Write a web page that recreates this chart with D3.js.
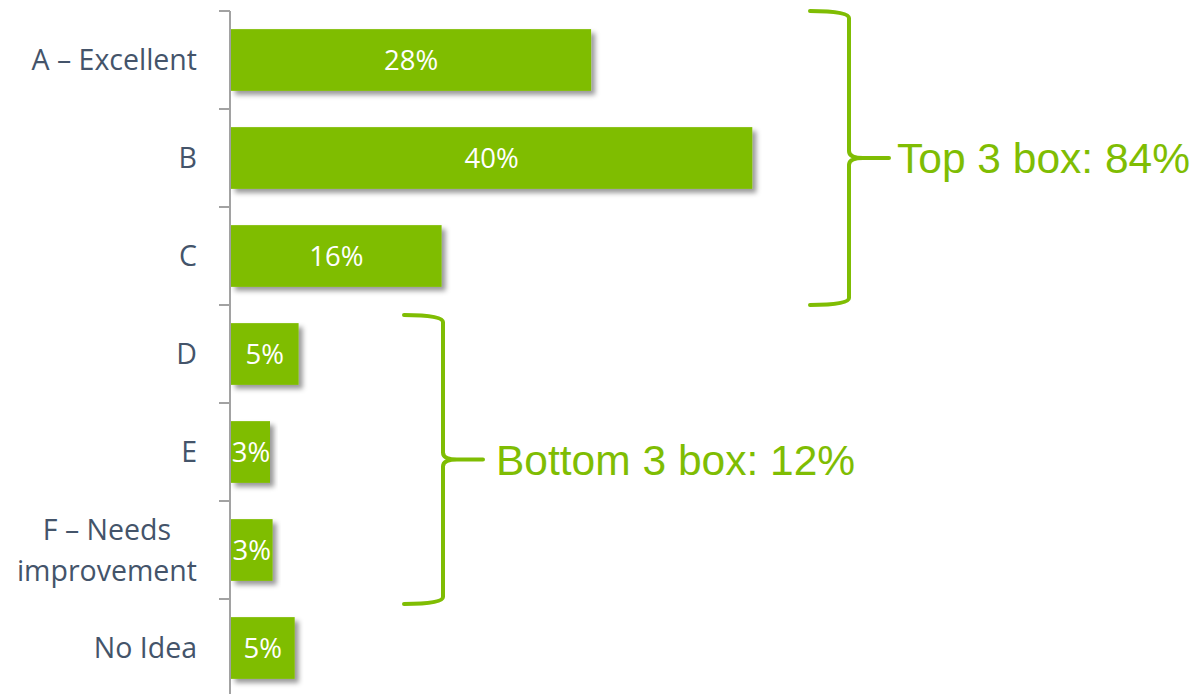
<!DOCTYPE html>
<html>
<head>
<meta charset="utf-8">
<script src="https://cdn.jsdelivr.net/npm/d3@7"></script>
<style>
  body { margin: 0; background: #fff; }
  svg { display: block; }
</style>
</head>
<body>
<svg id="chart"></svg>
<script>
// data
var categories = ["A – Excellent", "B", "C", "D", "E", "F – Needs\nimprovement", "No Idea"];
var values = [27.7, 40.1, 16.2, 5.2, 3.0, 3.2, 4.9]; // percent
var groupTexts = ["Top 3 box: 84%", "Bottom 3 box: 12%"];
var groupFirst = ["A – Excellent", "D"];
var groupLast = ["C", "F – Needs\nimprovement"];

var WIDTH = 1195, HEIGHT = 694;
var GREEN = "#7fbd03";
var SLATE = "#44546a";

var svg = d3.select("#chart").attr("width", WIDTH).attr("height", HEIGHT);

// drop shadow for the bars
var defs = svg.append("defs");
var f = defs.append("filter").attr("id", "shadow")
	.attr("x", "-10%").attr("y", "-20%").attr("width", "130%").attr("height", "150%");
f.append("feDropShadow")
	.attr("dx", 4).attr("dy", 4).attr("stdDeviation", 2.5)
	.attr("flood-color", "#000").attr("flood-opacity", 0.4);

var x0 = 231;
var x = d3.scaleLinear().domain([0, 40]).range([x0, x0 + 520]);
var y = d3.scaleBand().domain(categories).range([11, 697])
	.paddingInner(0.37).paddingOuter(0.185);

// axis line + ticks at the band boundaries
var step = y.step();
var boundaries = d3.range(categories.length + 1).map(function(i) { return 11 + i * step; });
svg.append("line")
	.attr("x1", x0 - 1).attr("x2", x0 - 1).attr("y1", 11).attr("y2", HEIGHT)
	.attr("stroke", "#a2a2a2").attr("stroke-width", 2);
svg.selectAll(".tick").data(boundaries).enter().append("line")
	.attr("class", "tick")
	.attr("x1", x0 - 12).attr("x2", x0 - 1)
	.attr("y1", function(d) { return d; }).attr("y2", function(d) { return d; })
	.attr("stroke", "#a2a2a2").attr("stroke-width", 2);

// bars
var data = categories.map(function(c, i) { return { cat: c, val: values[i] }; });
svg.selectAll(".bar").data(data).enter().append("rect")
	.attr("class", "bar")
	.attr("x", x0)
	.attr("y", function(d) { return y(d.cat); })
	.attr("width", function(d) { return x(d.val) - x0; })
	.attr("height", y.bandwidth())
	.attr("fill", GREEN)
	.attr("filter", "url(#shadow)");

// value labels
svg.selectAll(".val").data(data).enter().append("text")
	.attr("class", "val")
	.attr("x", function(d) { return Math.max((x0 + x(d.val)) / 2, x0 + 20); })
	.attr("y", function(d) { return y(d.cat) + y.bandwidth() / 2; })
	.attr("dy", "0.36em")
	.attr("text-anchor", "middle")
	.attr("font-family", "'Open Sans', sans-serif")
	.attr("font-size", 27.5)
	.attr("fill", "#fff")
	.text(function(d) { return Math.round(d.val) + "%"; });

// category labels (multi line ones centred on their widest line)
var labelRight = 197;
data.forEach(function(d) {
	var lines = d.cat.split("\n");
	var t = svg.append("text")
		.attr("font-family", "'Open Sans', sans-serif")
		.attr("font-size", 28.5)
		.attr("fill", SLATE);
	var cy = y(d.cat) + y.bandwidth() / 2;
	var lh = 41;
	lines.forEach(function(l, i) {
		t.append("tspan")
			.attr("y", cy + (i - (lines.length - 1) / 2) * lh)
			.attr("dy", "0.36em")
			.text(l);
	});
	if (lines.length === 1) {
		t.attr("text-anchor", "end").selectAll("tspan").attr("x", labelRight);
	} else {
		var w = 0;
		t.selectAll("tspan").each(function() { w = Math.max(w, this.getComputedTextLength()); });
		t.attr("text-anchor", "middle").selectAll("tspan").attr("x", labelRight - w / 2);
	}
});

// braces with group totals
function bracePath(xe, xv, xt, ya, yb) {
	var ym = (ya + yb) / 2, r = 7;
	return "M" + xe + "," + ya +
		" Q" + xv + "," + ya + " " + xv + "," + (ya + r) +
		" L" + xv + "," + (ym - r) +
		" Q" + xv + "," + ym + " " + (xv + 14) + "," + ym +
		" L" + xt + "," + ym +
		" M" + (xv + 14) + "," + ym +
		" Q" + xv + "," + ym + " " + xv + "," + (ym + r) +
		" L" + xv + "," + (yb - r) +
		" Q" + xv + "," + yb + " " + xe + "," + yb;
}

var braceX = [849, 443];
var braceInset = [[0, 0], [10, 5]];
var textGap = [8, 13];
groupTexts.forEach(function(txt, i) {
	var ya = y(groupFirst[i]) - y.step() * y.paddingInner() / 2 + braceInset[i][0];
	if (i === 0) ya = 11;
	var yb = y(groupLast[i]) + y.bandwidth() + y.step() * y.paddingInner() / 2 + braceInset[i][1];
	var xv = braceX[i];
	svg.append("path")
		.attr("d", bracePath(xv - 39, xv, xv + 40, ya, yb))
		.attr("fill", "none")
		.attr("stroke", GREEN)
		.attr("stroke-width", 4)
		.attr("stroke-linecap", "round");
	svg.append("text")
		.attr("x", xv + 40 + textGap[i])
		.attr("y", (ya + yb) / 2)
		.attr("dy", "0.36em")
		.attr("font-family", "'Liberation Sans', Arial, sans-serif")
		.attr("font-size", 42.5)
		.attr("fill", GREEN)
		.text(txt);
});
</script>
</body>
</html>
